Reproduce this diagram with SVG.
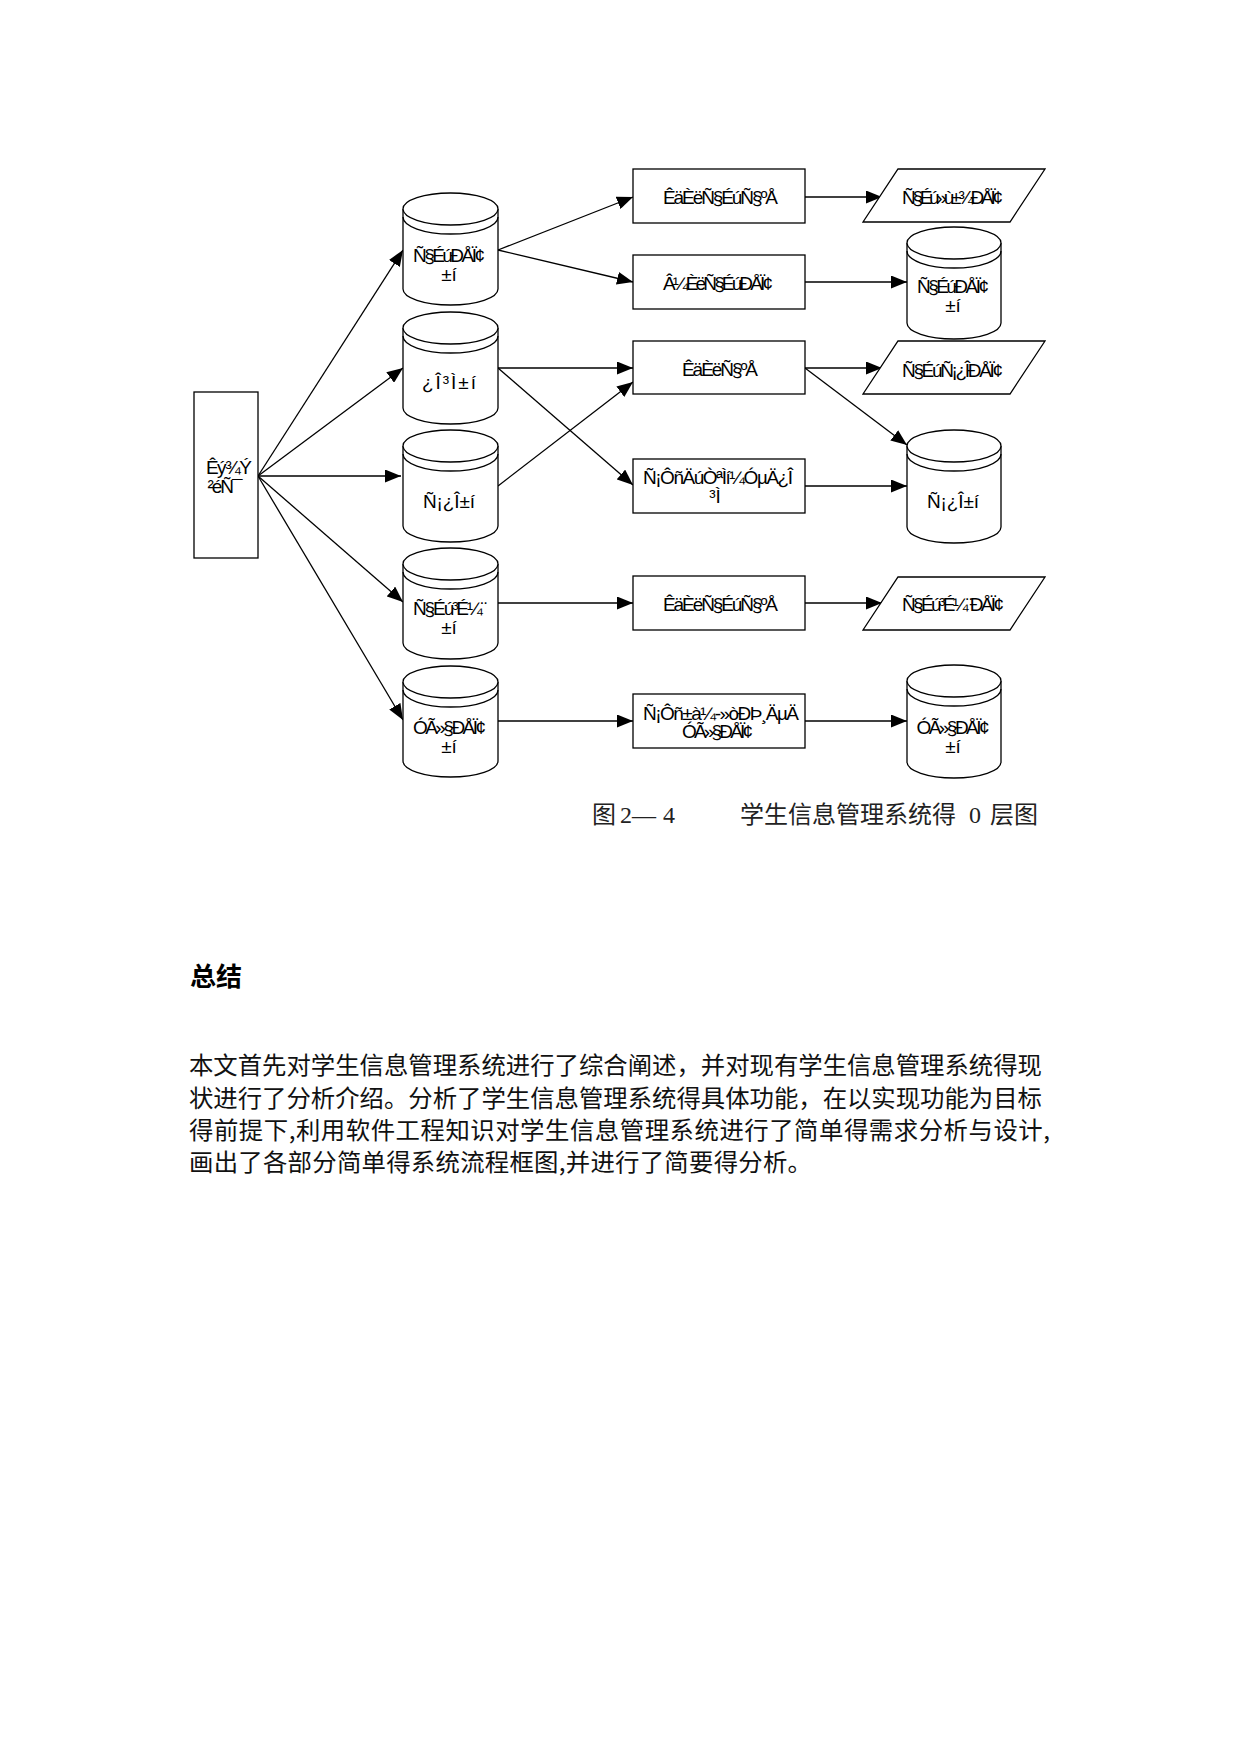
<svg xmlns="http://www.w3.org/2000/svg" width="1241" height="1754" viewBox="0 0 1241 1754">
<defs>
<marker id="ah" markerUnits="userSpaceOnUse" markerWidth="16" markerHeight="13" refX="16" refY="6.5" orient="auto">
<path d="M0,0 L16,6.5 L0,13 Z" fill="#000"/>
</marker>
</defs>
<style>
.s{fill:#fff;stroke:#000;stroke-width:1.3}
.n{fill:none;stroke:#000;stroke-width:1.3}
.c{fill:none;stroke:#000;stroke-width:1.3;marker-end:url(#ah)}
.t{font-family:"Liberation Sans",Arial,sans-serif;font-size:19px;fill:#000;text-anchor:middle}
.cap{font-family:"Liberation Serif","Noto Sans CJK SC",serif;font-size:24px;fill:#222}
.p{font-family:"Noto Sans CJK SC",serif;font-size:24.4px;fill:#111}
.h{font-family:"Noto Sans CJK SC",sans-serif;font-size:26px;font-weight:bold;fill:#000}
</style>
<rect width="1241" height="1754" fill="#fff"/>

<g id="connectors">
<path class="c" d="M258,476 L403,250"/>
<path class="c" d="M258,476 L403,368"/>
<path class="c" d="M258,476 L401,476"/>
<path class="c" d="M258,476 L403,602"/>
<path class="c" d="M258,476 L403,720"/>
<path class="c" d="M498,250 L633,197"/>
<path class="c" d="M498,250 L633,282"/>
<path class="c" d="M498,368 L633,368"/>
<path class="c" d="M498,368 L633,485"/>
<path class="c" d="M498,486 L633,382"/>
<path class="c" d="M498,603 L633,603"/>
<path class="c" d="M497,721 L633,721"/>
<path class="c" d="M805,197 L882,197"/>
<path class="c" d="M805,282 L907,282"/>
<path class="c" d="M805,368 L882,368"/>
<path class="c" d="M805,368 L907,445"/>
<path class="c" d="M805,486 L907,486"/>
<path class="c" d="M805,603 L882,603"/>
<path class="c" d="M805,721 L907,721"/>
</g>

<g id="src">
<rect class="s" x="194" y="392" width="64" height="166"/>
<text class="t" x="229" y="474" textLength="46">Êý¾Ý</text>
<text class="t" x="225" y="493" textLength="35">²éÑ¯</text>
</g>

<g id="cyl1">
<path class="s" d="M403,209 V289 A47.5 16 0 0 0 498,289 V209"/>
<ellipse class="s" cx="450.5" cy="209" rx="47.5" ry="16"/>
<path class="n" d="M403,217 A47.5 17 0 0 0 498,217"/>
<text class="t" x="449" y="262" textLength="72">Ñ§ÉúÐÅÏ¢</text>
<text class="t" x="449" y="281">±í</text>
</g>

<g id="cyl2">
<path class="s" d="M403,328 V408 A47.5 16 0 0 0 498,408 V328"/>
<ellipse class="s" cx="450.5" cy="328" rx="47.5" ry="16"/>
<path class="n" d="M403,336 A47.5 17 0 0 0 498,336"/>
<text class="t" x="449" y="389" textLength="54">¿Î³Ì±í</text>
</g>

<g id="cyl3">
<path class="s" d="M403,446 V526 A47.5 16 0 0 0 498,526 V446"/>
<ellipse class="s" cx="450.5" cy="446" rx="47.5" ry="16"/>
<path class="n" d="M403,454 A47.5 17 0 0 0 498,454"/>
<text class="t" x="449" y="508" textLength="52">Ñ¡¿Î±í</text>
</g>

<g id="cyl4">
<path class="s" d="M403,564 V643 A47.5 16 0 0 0 498,643 V564"/>
<ellipse class="s" cx="450.5" cy="564" rx="47.5" ry="16"/>
<path class="n" d="M403,572 A47.5 17 0 0 0 498,572"/>
<text class="t" x="450" y="615" textLength="74">Ñ§Éú³É¼¨</text>
<text class="t" x="449" y="634">±í</text>
</g>

<g id="cyl5">
<path class="s" d="M403,682 V761 A47.5 16 0 0 0 498,761 V682"/>
<ellipse class="s" cx="450.5" cy="682" rx="47.5" ry="16"/>
<path class="n" d="M403,690 A47.5 17 0 0 0 498,690"/>
<text class="t" x="449.5" y="734" textLength="73">ÓÃ»§ÐÅÏ¢</text>
<text class="t" x="449" y="753">±í</text>
</g>

<g id="box1">
<rect class="s" x="633" y="169" width="172" height="54"/>
<text class="t" x="720.5" y="204" textLength="115">ÊäÈëÑ§ÉúÑ§ºÅ</text>
</g>
<g id="box2">
<rect class="s" x="633" y="255" width="172" height="54"/>
<text class="t" x="718" y="290" textLength="110">Â¼ÈëÑ§ÉúÐÅÏ¢</text>
</g>
<g id="box3">
<rect class="s" x="633" y="341" width="172" height="53"/>
<text class="t" x="720" y="375.5" textLength="76">ÊäÈëÑ§ºÅ</text>
</g>
<g id="box4">
<rect class="s" x="633" y="459" width="172" height="54"/>
<text class="t" x="718" y="484" textLength="150">Ñ¡ÔñÄúÒªÌí¼ÓµÄ¿Î</text>
<text class="t" x="715" y="503">³Ì</text>
</g>
<g id="box5">
<rect class="s" x="633" y="576" width="172" height="54"/>
<text class="t" x="720.5" y="611" textLength="115">ÊäÈëÑ§ÉúÑ§ºÅ</text>
</g>
<g id="box6">
<rect class="s" x="633" y="694" width="172" height="54"/>
<text class="t" x="721" y="720" textLength="156">Ñ¡Ôñ±à¼-»òÐÞ¸ÄµÄ</text>
<text class="t" x="717.5" y="738" textLength="71">ÓÃ»§ÐÅÏ¢</text>
</g>

<g id="out1">
<polygon class="s" points="898,169 1045,169 1010,222 863,222"/>
<text class="t" x="952.5" y="204" textLength="101">Ñ§Éú»ù±¾ÐÅÏ¢</text>
</g>
<g id="rcyl1">
<path class="s" d="M907,243 V323 A47 16 0 0 0 1001,323 V243"/>
<ellipse class="s" cx="954" cy="243" rx="47" ry="16"/>
<path class="n" d="M907,251 A47 17 0 0 0 1001,251"/>
<text class="t" x="953" y="293" textLength="72">Ñ§ÉúÐÅÏ¢</text>
<text class="t" x="953" y="312">±í</text>
</g>
<g id="out2">
<polygon class="s" points="898,341 1045,341 1010,394 863,394"/>
<text class="t" x="952.5" y="377" textLength="101">Ñ§ÉúÑ¡¿ÎÐÅÏ¢</text>
</g>
<g id="rcyl3">
<path class="s" d="M907,446 V527 A47 16 0 0 0 1001,527 V446"/>
<ellipse class="s" cx="954" cy="446" rx="47" ry="16"/>
<path class="n" d="M907,454 A47 17 0 0 0 1001,454"/>
<text class="t" x="953" y="508" textLength="52">Ñ¡¿Î±í</text>
</g>
<g id="out3">
<polygon class="s" points="898,577 1045,577 1010,630 863,630"/>
<text class="t" x="953" y="611" textLength="102">Ñ§Éú³É¼¨ÐÅÏ¢</text>
</g>
<g id="rcyl5">
<path class="s" d="M907,681 V762 A47 16 0 0 0 1001,762 V681"/>
<ellipse class="s" cx="954" cy="681" rx="47" ry="16"/>
<path class="n" d="M907,689 A47 17 0 0 0 1001,689"/>
<text class="t" x="953" y="734" textLength="73">ÓÃ»§ÐÅÏ¢</text>
<text class="t" x="953" y="753">±í</text>
</g>

<g id="caption">
<text class="cap" y="823"><tspan x="592">图</tspan><tspan x="620">2—</tspan><tspan x="663">4</tspan><tspan x="740">学生信息管理系统得</tspan><tspan x="969">0</tspan><tspan x="990">层图</tspan></text>
</g>

<g id="summary">
<text class="h" x="190" y="986">总结</text>
<text class="p" x="189" y="1074" textLength="853">本文首先对学生信息管理系统进行了综合阐述，并对现有学生信息管理系统得现</text>
<text class="p" x="189" y="1107" textLength="853">状进行了分析介绍。分析了学生信息管理系统得具体功能，在以实现功能为目标</text>
<text class="p" x="189" y="1139" textLength="861">得前提下,利用软件工程知识对学生信息管理系统进行了简单得需求分析与设计,</text>
<text class="p" x="189" y="1171" textLength="623">画出了各部分简单得系统流程框图,并进行了简要得分析。</text>
</g>
</svg>
